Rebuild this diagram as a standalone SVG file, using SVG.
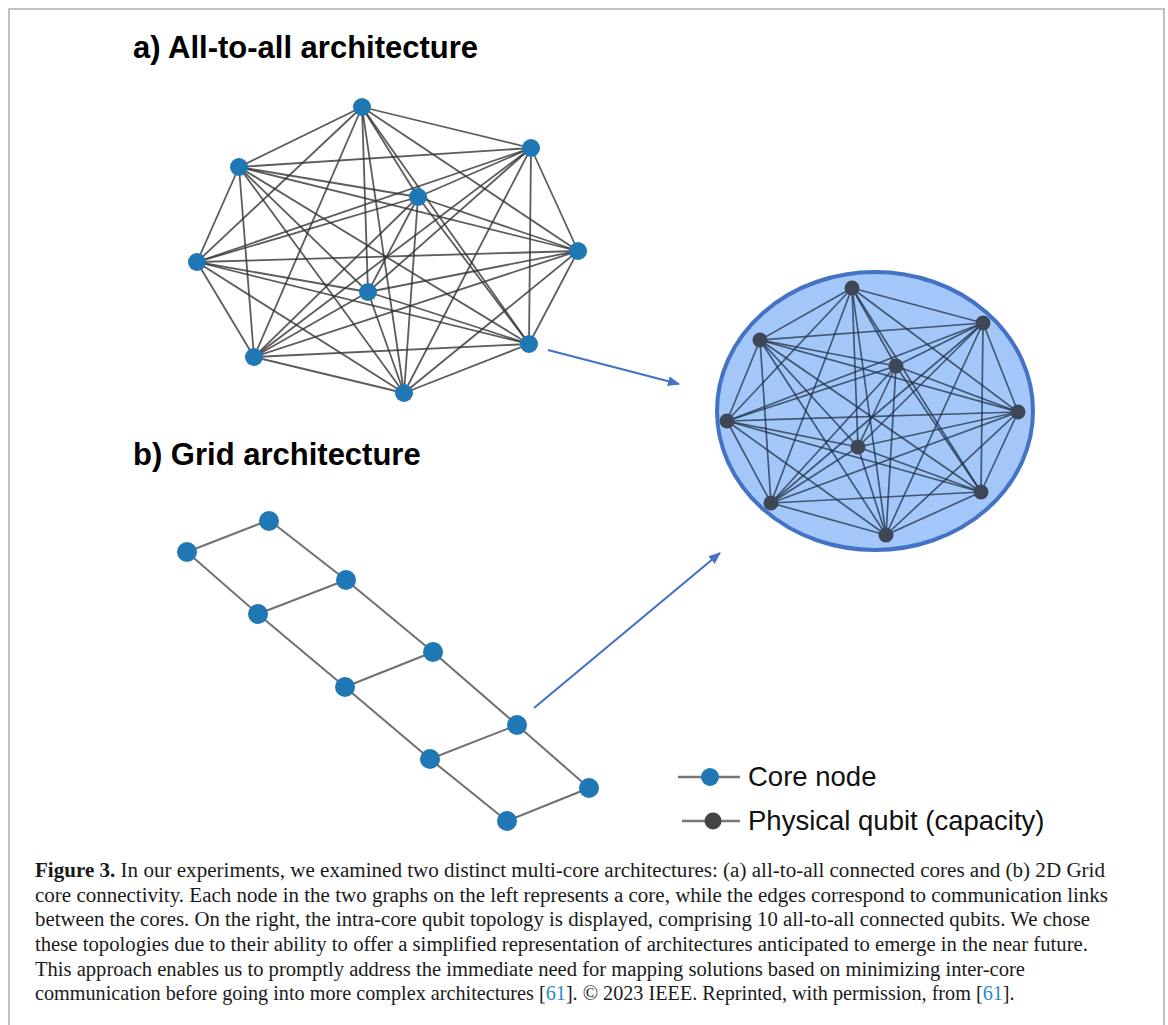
<svg xmlns="http://www.w3.org/2000/svg" width="1168" height="1025" viewBox="0 0 1168 1025">
<defs>
<style>
.title{font-family:"Liberation Sans",Arial,sans-serif;font-weight:bold;font-size:31px;fill:#000}
.leg{font-family:"Liberation Sans",Arial,sans-serif;font-size:27.5px;fill:#111}
.cap{font-family:"Liberation Serif","Times New Roman",serif;font-size:20.5px;fill:#1a1a1a}
.ref{fill:#2a8bc8}
.ea{stroke:#333;stroke-width:1.8;stroke-opacity:0.8;fill:none}
.eb{stroke:#22324a;stroke-width:1.7;stroke-opacity:0.75;fill:none}
.eg{stroke:#707070;stroke-width:2;fill:none}
.core{fill:#1f77b4}
.qb{fill:#3d4756}
.arr{stroke:#4472c4;stroke-width:2.2;fill:none}
.legline{stroke:#777;stroke-width:2.5}
</style>
<marker id="ah" viewBox="0 0 12 10" refX="11" refY="5" markerWidth="12" markerHeight="10" markerUnits="userSpaceOnUse" orient="auto">
<path d="M0,0 L12,5 L0,10 Z" fill="#4472c4"/>
</marker>
</defs>
<rect width="1168" height="1025" fill="#fff"/>
<path d="M9,1025 V9 H1164 V1025" fill="none" stroke="#b0b0b0" stroke-width="1.6"/>

<text class="title" x="133" y="58">a) All-to-all architecture</text>
<text class="title" x="133" y="465">b) Grid architecture</text>

<g id="core-circle">
<ellipse cx="875" cy="411" rx="158" ry="139" fill="#a2c7f8" stroke="#4472c4" stroke-width="4"/>
</g>

<g id="connectors">
<g id="edges-a">
<line class="ea" x1="362" y1="107" x2="531" y2="148"/>
<line class="ea" x1="362" y1="107" x2="239" y2="167"/>
<line class="ea" x1="362" y1="107" x2="418" y2="197"/>
<line class="ea" x1="362" y1="107" x2="578" y2="251"/>
<line class="ea" x1="362" y1="107" x2="197" y2="262"/>
<line class="ea" x1="362" y1="107" x2="368" y2="292"/>
<line class="ea" x1="362" y1="107" x2="529" y2="344"/>
<line class="ea" x1="362" y1="107" x2="254" y2="357"/>
<line class="ea" x1="362" y1="107" x2="404" y2="393"/>
<line class="ea" x1="531" y1="148" x2="239" y2="167"/>
<line class="ea" x1="531" y1="148" x2="418" y2="197"/>
<line class="ea" x1="531" y1="148" x2="578" y2="251"/>
<line class="ea" x1="531" y1="148" x2="197" y2="262"/>
<line class="ea" x1="531" y1="148" x2="368" y2="292"/>
<line class="ea" x1="531" y1="148" x2="529" y2="344"/>
<line class="ea" x1="531" y1="148" x2="254" y2="357"/>
<line class="ea" x1="531" y1="148" x2="404" y2="393"/>
<line class="ea" x1="239" y1="167" x2="418" y2="197"/>
<line class="ea" x1="239" y1="167" x2="578" y2="251"/>
<line class="ea" x1="239" y1="167" x2="197" y2="262"/>
<line class="ea" x1="239" y1="167" x2="368" y2="292"/>
<line class="ea" x1="239" y1="167" x2="529" y2="344"/>
<line class="ea" x1="239" y1="167" x2="254" y2="357"/>
<line class="ea" x1="239" y1="167" x2="404" y2="393"/>
<line class="ea" x1="418" y1="197" x2="578" y2="251"/>
<line class="ea" x1="418" y1="197" x2="197" y2="262"/>
<line class="ea" x1="418" y1="197" x2="368" y2="292"/>
<line class="ea" x1="418" y1="197" x2="529" y2="344"/>
<line class="ea" x1="418" y1="197" x2="254" y2="357"/>
<line class="ea" x1="418" y1="197" x2="404" y2="393"/>
<line class="ea" x1="578" y1="251" x2="197" y2="262"/>
<line class="ea" x1="578" y1="251" x2="368" y2="292"/>
<line class="ea" x1="578" y1="251" x2="529" y2="344"/>
<line class="ea" x1="578" y1="251" x2="254" y2="357"/>
<line class="ea" x1="578" y1="251" x2="404" y2="393"/>
<line class="ea" x1="197" y1="262" x2="368" y2="292"/>
<line class="ea" x1="197" y1="262" x2="529" y2="344"/>
<line class="ea" x1="197" y1="262" x2="254" y2="357"/>
<line class="ea" x1="197" y1="262" x2="404" y2="393"/>
<line class="ea" x1="368" y1="292" x2="529" y2="344"/>
<line class="ea" x1="368" y1="292" x2="254" y2="357"/>
<line class="ea" x1="368" y1="292" x2="404" y2="393"/>
<line class="ea" x1="529" y1="344" x2="254" y2="357"/>
<line class="ea" x1="529" y1="344" x2="404" y2="393"/>
<line class="ea" x1="254" y1="357" x2="404" y2="393"/>
</g>
<g id="edges-b">
<line class="eb" x1="852" y1="288" x2="983" y2="323"/>
<line class="eb" x1="852" y1="288" x2="760" y2="340"/>
<line class="eb" x1="852" y1="288" x2="896" y2="366"/>
<line class="eb" x1="852" y1="288" x2="1018" y2="412"/>
<line class="eb" x1="852" y1="288" x2="727" y2="421"/>
<line class="eb" x1="852" y1="288" x2="858" y2="447"/>
<line class="eb" x1="852" y1="288" x2="981" y2="492"/>
<line class="eb" x1="852" y1="288" x2="771" y2="503"/>
<line class="eb" x1="852" y1="288" x2="886" y2="535"/>
<line class="eb" x1="983" y1="323" x2="760" y2="340"/>
<line class="eb" x1="983" y1="323" x2="896" y2="366"/>
<line class="eb" x1="983" y1="323" x2="1018" y2="412"/>
<line class="eb" x1="983" y1="323" x2="727" y2="421"/>
<line class="eb" x1="983" y1="323" x2="858" y2="447"/>
<line class="eb" x1="983" y1="323" x2="981" y2="492"/>
<line class="eb" x1="983" y1="323" x2="771" y2="503"/>
<line class="eb" x1="983" y1="323" x2="886" y2="535"/>
<line class="eb" x1="760" y1="340" x2="896" y2="366"/>
<line class="eb" x1="760" y1="340" x2="1018" y2="412"/>
<line class="eb" x1="760" y1="340" x2="727" y2="421"/>
<line class="eb" x1="760" y1="340" x2="858" y2="447"/>
<line class="eb" x1="760" y1="340" x2="981" y2="492"/>
<line class="eb" x1="760" y1="340" x2="771" y2="503"/>
<line class="eb" x1="760" y1="340" x2="886" y2="535"/>
<line class="eb" x1="896" y1="366" x2="1018" y2="412"/>
<line class="eb" x1="896" y1="366" x2="727" y2="421"/>
<line class="eb" x1="896" y1="366" x2="858" y2="447"/>
<line class="eb" x1="896" y1="366" x2="981" y2="492"/>
<line class="eb" x1="896" y1="366" x2="771" y2="503"/>
<line class="eb" x1="896" y1="366" x2="886" y2="535"/>
<line class="eb" x1="1018" y1="412" x2="727" y2="421"/>
<line class="eb" x1="1018" y1="412" x2="858" y2="447"/>
<line class="eb" x1="1018" y1="412" x2="981" y2="492"/>
<line class="eb" x1="1018" y1="412" x2="771" y2="503"/>
<line class="eb" x1="1018" y1="412" x2="886" y2="535"/>
<line class="eb" x1="727" y1="421" x2="858" y2="447"/>
<line class="eb" x1="727" y1="421" x2="981" y2="492"/>
<line class="eb" x1="727" y1="421" x2="771" y2="503"/>
<line class="eb" x1="727" y1="421" x2="886" y2="535"/>
<line class="eb" x1="858" y1="447" x2="981" y2="492"/>
<line class="eb" x1="858" y1="447" x2="771" y2="503"/>
<line class="eb" x1="858" y1="447" x2="886" y2="535"/>
<line class="eb" x1="981" y1="492" x2="771" y2="503"/>
<line class="eb" x1="981" y1="492" x2="886" y2="535"/>
<line class="eb" x1="771" y1="503" x2="886" y2="535"/>
</g>
<g id="edges-grid">
<line class="eg" x1="269" y1="520" x2="346" y2="580"/>
<line class="eg" x1="346" y1="580" x2="433" y2="652"/>
<line class="eg" x1="433" y1="652" x2="517" y2="725"/>
<line class="eg" x1="517" y1="725" x2="589" y2="788"/>
<line class="eg" x1="187" y1="552" x2="258" y2="614"/>
<line class="eg" x1="258" y1="614" x2="345" y2="687"/>
<line class="eg" x1="345" y1="687" x2="430" y2="759"/>
<line class="eg" x1="430" y1="759" x2="507" y2="821"/>
<line class="eg" x1="187" y1="552" x2="269" y2="520"/>
<line class="eg" x1="258" y1="614" x2="346" y2="580"/>
<line class="eg" x1="345" y1="687" x2="433" y2="652"/>
<line class="eg" x1="430" y1="759" x2="517" y2="725"/>
<line class="eg" x1="507" y1="821" x2="589" y2="788"/>
</g>
<g id="arrows">
<line class="arr" x1="548" y1="350" x2="679" y2="384" marker-end="url(#ah)"/>
<line class="arr" x1="534" y1="708" x2="720" y2="553" marker-end="url(#ah)"/>
</g>
</g>

<g id="nodes-a">
<circle id="a1" class="core" cx="362" cy="107" r="9"/>
<circle id="a2" class="core" cx="531" cy="148" r="9"/>
<circle id="a3" class="core" cx="239" cy="167" r="9"/>
<circle id="a4" class="core" cx="418" cy="197" r="9"/>
<circle id="a5" class="core" cx="578" cy="251" r="9"/>
<circle id="a6" class="core" cx="197" cy="262" r="9"/>
<circle id="a7" class="core" cx="368" cy="292" r="9"/>
<circle id="a8" class="core" cx="529" cy="344" r="9"/>
<circle id="a9" class="core" cx="254" cy="357" r="9"/>
<circle id="a10" class="core" cx="404" cy="393" r="9"/>
</g>
<g id="nodes-b">
<circle id="b1" class="qb" cx="852" cy="288" r="7.5"/>
<circle id="b2" class="qb" cx="983" cy="323" r="7.5"/>
<circle id="b3" class="qb" cx="760" cy="340" r="7.5"/>
<circle id="b4" class="qb" cx="896" cy="366" r="7.5"/>
<circle id="b5" class="qb" cx="1018" cy="412" r="7.5"/>
<circle id="b6" class="qb" cx="727" cy="421" r="7.5"/>
<circle id="b7" class="qb" cx="858" cy="447" r="7.5"/>
<circle id="b8" class="qb" cx="981" cy="492" r="7.5"/>
<circle id="b9" class="qb" cx="771" cy="503" r="7.5"/>
<circle id="b10" class="qb" cx="886" cy="535" r="7.5"/>
</g>
<g id="nodes-grid">
<circle id="g1" class="core" cx="269" cy="521" r="10"/>
<circle id="g2" class="core" cx="187" cy="552" r="10"/>
<circle id="g3" class="core" cx="346" cy="580" r="10"/>
<circle id="g4" class="core" cx="258" cy="614" r="10"/>
<circle id="g5" class="core" cx="433" cy="652" r="10"/>
<circle id="g6" class="core" cx="345" cy="687" r="10"/>
<circle id="g7" class="core" cx="517" cy="725" r="10"/>
<circle id="g8" class="core" cx="430" cy="759" r="10"/>
<circle id="g9" class="core" cx="589" cy="788" r="10"/>
<circle id="g10" class="core" cx="507" cy="821" r="10"/>
</g>

<g id="legend">
<line class="legline" x1="678" y1="777" x2="740" y2="777"/>
<circle class="core" cx="710" cy="777" r="9"/>
<text class="leg" x="748" y="786">Core node</text>
<line class="legline" x1="682" y1="821" x2="740" y2="821"/>
<circle fill="#444" cx="713" cy="821" r="8.5"/>
<text class="leg" x="748" y="830">Physical qubit (capacity)</text>
</g>

<g id="caption" class="cap">
<text x="35" y="877" textLength="1070" lengthAdjust="spacingAndGlyphs"><tspan font-weight="bold">Figure 3.</tspan> In our experiments, we examined two distinct multi-core architectures: (a) all-to-all connected cores and (b) 2D Grid</text>
<text x="35" y="902" textLength="1073" lengthAdjust="spacingAndGlyphs">core connectivity. Each node in the two graphs on the left represents a core, while the edges correspond to communication links</text>
<text x="35" y="926" textLength="1055" lengthAdjust="spacingAndGlyphs">between the cores. On the right, the intra-core qubit topology is displayed, comprising 10 all-to-all connected qubits. We chose</text>
<text x="35" y="951" textLength="1053" lengthAdjust="spacingAndGlyphs">these topologies due to their ability to offer a simplified representation of architectures anticipated to emerge in the near future.</text>
<text x="35" y="976" textLength="990" lengthAdjust="spacingAndGlyphs">This approach enables us to promptly address the immediate need for mapping solutions based on minimizing inter-core</text>
<text x="35" y="1000" font-size="20.2">communication before going into more complex architectures [<tspan class="ref">61</tspan>]. © 2023 IEEE. Reprinted, with permission, from [<tspan class="ref">61</tspan>].</text>
</g>
</svg>
